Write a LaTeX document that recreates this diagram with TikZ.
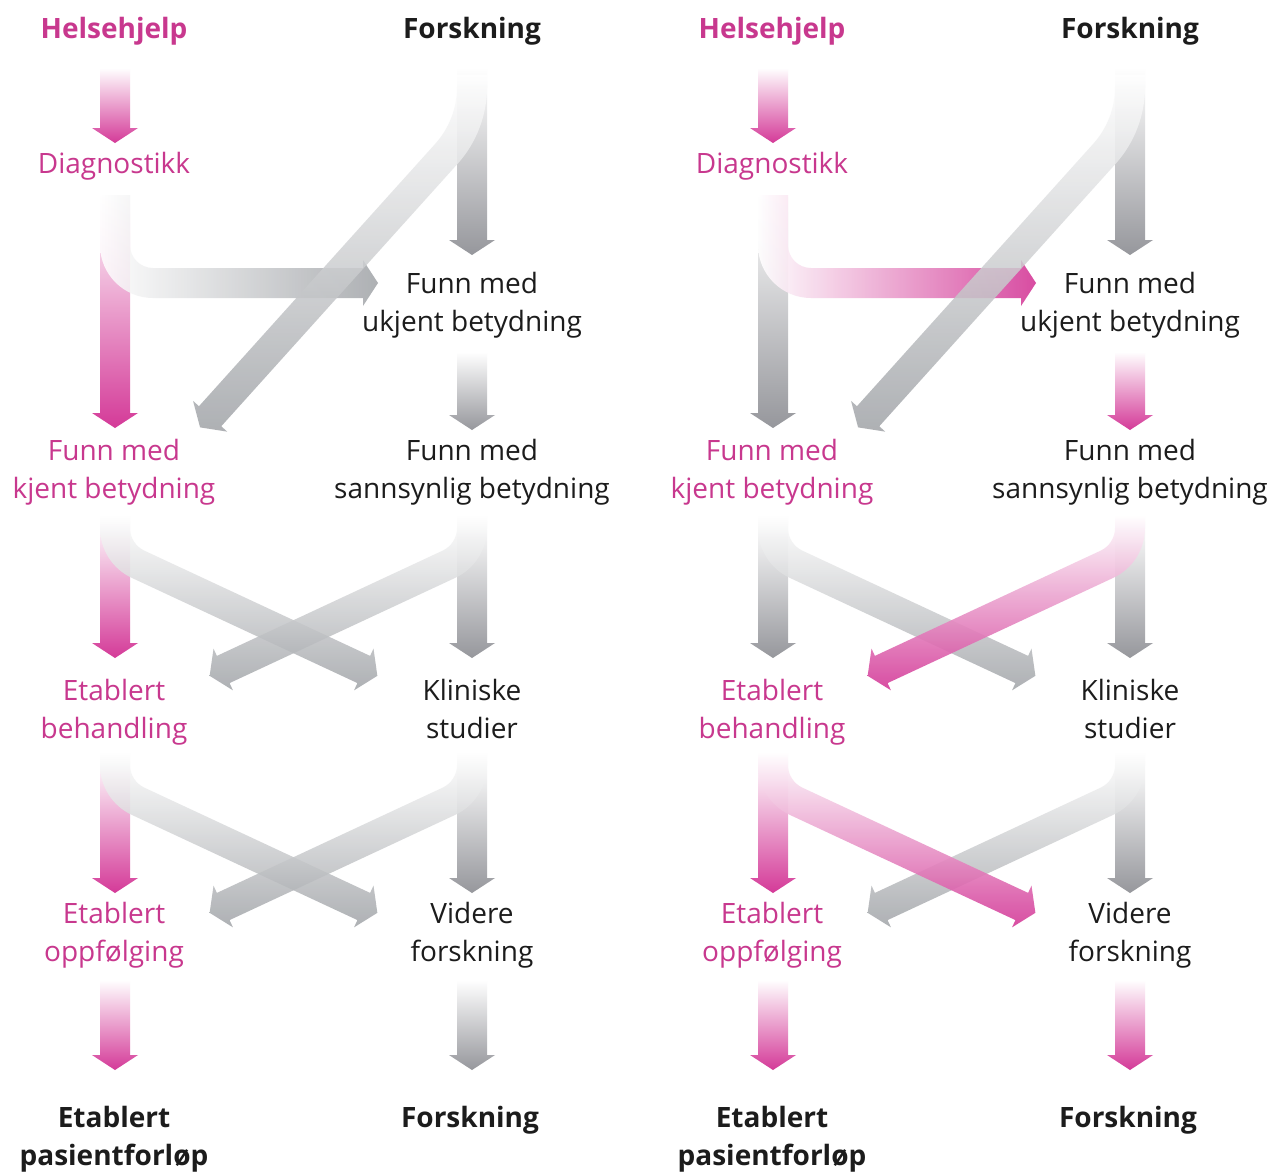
\documentclass[tikz,border=0pt]{standalone}
\usepackage{fontspec}
\setmainfont{Open Sans}
\usetikzlibrary{calc}
\definecolor{mag}{RGB}{212,58,152}
\definecolor{magtext}{RGB}{200,56,142}
\definecolor{gv}{RGB}{150,151,156}
\definecolor{gx}{RGB}{160,163,167}
\definecolor{txt}{RGB}{28,28,28}
% vertical arrow: x, ytop, ytip, shading options
\newcommand{\varr}[4]{%
  \shade[#4] (#1-15,#2) -- (#1-15,#3-15) -- (#1-23,#3-15) -- (#1,#3) -- (#1+23,#3-15)
    -- (#1+15,#3-15) -- (#1+15,#2) -- cycle;}
% branch arrow: x0, y0, y1 (arc start), R, alpha, side (+1 right/-1 left), L, shading options
\newcommand{\brarr}[8]{%
  \pgfmathsetmacro\bAo{(#6)>0 ? 180 : 0}%
  \pgfmathsetmacro\bAe{\bAo-(#6)*(#5)}%
  \pgfmathsetmacro\bCx{#1+(#6)*(#4)}%
  \pgfmathsetmacro\bTh{90-(#6)*(#5)}%
  \pgfmathsetmacro\bPx{\bCx+(#4)*cos(\bAe)}%
  \pgfmathsetmacro\bPy{#3+(#4)*sin(\bAe)}%
  \pgfmathsetmacro\bNx{cos(\bAe)}%
  \pgfmathsetmacro\bNy{sin(\bAe)}%
  \pgfmathsetmacro\bQx{\bPx+(#7)*cos(\bTh)}%
  \pgfmathsetmacro\bQy{\bPy+(#7)*sin(\bTh)}%
  \pgfmathsetmacro\bTx{\bQx+15*cos(\bTh)}%
  \pgfmathsetmacro\bTy{\bQy+15*sin(\bTh)}%
  \pgfmathsetmacro\bEo{#1-(#6)*15}%
  \pgfmathsetmacro\bEi{#1+(#6)*15}%
  \pgfmathsetmacro\bRo{#4+15}%
  \pgfmathsetmacro\bRi{#4-15}%
  \shade[#8] (\bEo,#2) -- (\bEo,#3) arc[start angle=\bAo, end angle=\bAe, radius=\bRo]
    -- (\bQx+15*\bNx,\bQy+15*\bNy) -- (\bQx+23*\bNx,\bQy+23*\bNy) -- (\bTx,\bTy)
    -- (\bQx-23*\bNx,\bQy-23*\bNy) -- (\bQx-15*\bNx,\bQy-15*\bNy)
    -- (\bPx-15*\bNx,\bPy-15*\bNy) arc[start angle=\bAe, end angle=\bAo, radius=\bRi]
    -- (\bEi,#2) -- cycle;}
\tikzset{
  lbl/.style={font=\fontsize{28}{38}\selectfont, align=center, text=txt, inner sep=0pt,
    text height=21pt, text depth=7pt},
  lblm/.style={lbl, text=magtext},
  ttl/.style={lbl, font=\fontsize{28}{38}\selectfont\bfseries},
  vm/.style={top color=white, bottom color=mag},
  vg/.style={top color=white, bottom color=gv},
  xg/.style={top color=white, bottom color=gx, fill opacity=.85},
  xm/.style={top color=white, bottom color=mag, fill opacity=.9},
  hg/.style={left color=white, right color=gx, fill opacity=.85},
  hm/.style={left color=white, right color=mag, fill opacity=.9},
}
\begin{document}
\begin{tikzpicture}[x=1pt,y=-1pt]
\useasboundingbox (0,0) rectangle (1281,1175);
\fill[white] (0,0) rectangle (1281,1175);
% ---------------- left panel ----------------
\varr{115}{68}{143}{vm}
\varr{472}{68}{255}{vg}
\varr{115}{195}{428}{vm}
\varr{472}{352}{430}{vg}
\varr{115}{520}{658}{vm}
\varr{472}{520}{658}{vg}
\varr{115}{760}{893}{vm}
\varr{472}{760}{893}{vg}
\varr{115}{980}{1070}{vm}
\varr{472}{980}{1070}{vg}
\brarr{115}{195}{245}{38}{90}{1}{210}{hg}
\brarr{472}{75}{87}{100}{42}{-1}{353}{xg}
\brarr{115}{515}{528}{40}{65}{1}{249}{xg}
\brarr{472}{515}{528}{40}{65}{-1}{249}{xg}
\brarr{115}{752}{765}{40}{65}{1}{249}{xg}
\brarr{472}{752}{765}{40}{65}{-1}{249}{xg}
\node[ttl, text=magtext] (h1) at (114,31) {Helsehjelp};
\node[ttl] (f1) at (472,31) {Forskning};
\node[lblm] (d1) at (114,166) {Diagnostikk};
\node[lbl] (u1) at (472,324) {Funn med\\ukjent betydning};
\node[lblm] (k1) at (114,491) {Funn med\\kjent betydning};
\node[lbl] (s1) at (472,491) {Funn med\\sannsynlig betydning};
\node[lblm] (e1) at (114,731) {Etablert\\behandling};
\node[lbl] (c1) at (472,731) {Kliniske\\studier};
\node[lblm] (o1) at (114,954) {Etablert\\oppfølging};
\node[lbl] (v1) at (472,954) {Videre\\forskning};
\node[ttl] (p1) at (114,1158) {Etablert\\pasientforløp};
\node[ttl] (r1) at (470,1120) {Forskning};
% ---------------- right panel ----------------
\begin{scope}[xshift=658]
\varr{115}{68}{143}{vm}
\varr{472}{68}{255}{vg}
\varr{115}{195}{428}{vg}
\varr{472}{352}{430}{vm}
\varr{115}{520}{658}{vg}
\varr{472}{520}{658}{vg}
\varr{115}{760}{893}{vm}
\varr{472}{760}{893}{vg}
\varr{115}{980}{1070}{vm}
\varr{472}{980}{1070}{vm}
\brarr{115}{195}{245}{38}{90}{1}{210}{hm}
\brarr{472}{75}{87}{100}{42}{-1}{353}{xg}
\brarr{115}{515}{528}{40}{65}{1}{249}{xg}
\brarr{472}{515}{528}{40}{65}{-1}{249}{xm}
\brarr{472}{752}{765}{40}{65}{-1}{249}{xg}
\brarr{115}{752}{765}{40}{65}{1}{249}{xm}
\node[ttl, text=magtext] (h2) at (114,31) {Helsehjelp};
\node[ttl] (f2) at (472,31) {Forskning};
\node[lblm] (d2) at (114,166) {Diagnostikk};
\node[lbl] (u2) at (472,324) {Funn med\\ukjent betydning};
\node[lblm] (k2) at (114,491) {Funn med\\kjent betydning};
\node[lbl] (s2) at (472,491) {Funn med\\sannsynlig betydning};
\node[lblm] (e2) at (114,731) {Etablert\\behandling};
\node[lbl] (c2) at (472,731) {Kliniske\\studier};
\node[lblm] (o2) at (114,954) {Etablert\\oppfølging};
\node[lbl] (v2) at (472,954) {Videre\\forskning};
\node[ttl] (p2) at (114,1158) {Etablert\\pasientforløp};
\node[ttl] (r2) at (470,1120) {Forskning};
\end{scope}
\end{tikzpicture}
\end{document}
